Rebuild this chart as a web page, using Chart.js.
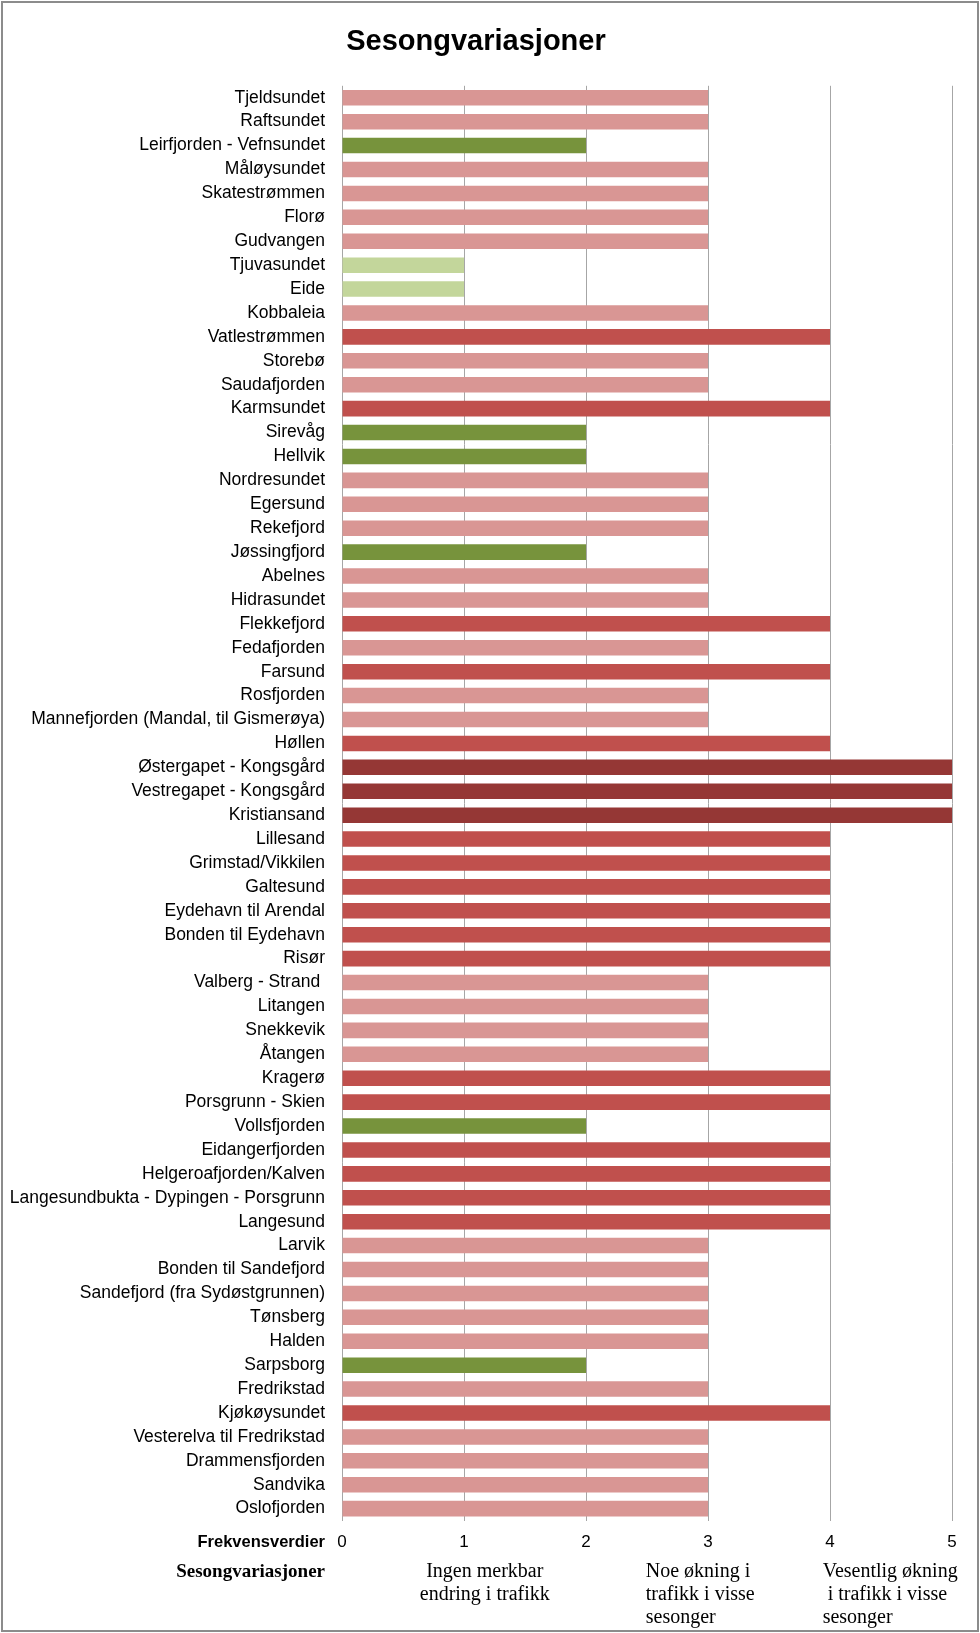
<!DOCTYPE html>
<html>
<head>
<meta charset="utf-8">
<script src="https://cdn.jsdelivr.net/npm/chart.js@4"></script>
<style>
  html, body { margin: 0; padding: 0; background: #fff; }
  canvas { display: block; }
</style>
</head>
<body>
<canvas id="chart" width="980" height="1633"></canvas>
<script>
const sites = [
  "Tjeldsundet", "Raftsundet", "Leirfjorden - Vefnsundet", "Måløysundet", "Skatestrømmen",
  "Florø", "Gudvangen", "Tjuvasundet", "Eide", "Kobbaleia",
  "Vatlestrømmen", "Storebø", "Saudafjorden", "Karmsundet", "Sirevåg",
  "Hellvik", "Nordresundet", "Egersund", "Rekefjord", "Jøssingfjord",
  "Abelnes", "Hidrasundet", "Flekkefjord", "Fedafjorden", "Farsund",
  "Rosfjorden", "Mannefjorden (Mandal, til Gismerøya)", "Høllen", "Østergapet - Kongsgård", "Vestregapet - Kongsgård",
  "Kristiansand", "Lillesand", "Grimstad/Vikkilen", "Galtesund", "Eydehavn til Arendal",
  "Bonden til Eydehavn", "Risør", "Valberg - Strand ", "Litangen", "Snekkevik",
  "Åtangen", "Kragerø", "Porsgrunn - Skien", "Vollsfjorden", "Eidangerfjorden",
  "Helgeroafjorden/Kalven", "Langesundbukta - Dypingen - Porsgrunn", "Langesund", "Larvik", "Bonden til Sandefjord",
  "Sandefjord (fra Sydøstgrunnen)", "Tønsberg", "Halden", "Sarpsborg", "Fredrikstad",
  "Kjøkøysundet", "Vesterelva til Fredrikstad", "Drammensfjorden", "Sandvika", "Oslofjorden"
];

const frekvens = [
  3, 3, 2, 3, 3,
  3, 3, 1, 1, 3,
  4, 3, 3, 4, 2,
  2, 3, 3, 3, 2,
  3, 3, 4, 3, 4,
  3, 3, 4, 5, 5,
  5, 4, 4, 4, 4,
  4, 4, 3, 3, 3,
  3, 4, 4, 2, 4,
  4, 4, 4, 3, 3,
  3, 3, 3, 2, 3,
  4, 3, 3, 3, 3
];

// colour per frekvensverdi 0..5
const levelColors = ["#ffffff", "#c3d69b", "#77933c", "#d99694", "#c0504d", "#953735"];

const xTicks = [0, 1, 2, 3, 4, 5];

const rowTitle = "Frekvensverdier";
const tableTitle = "Sesongvariasjoner";
const tableCols = [
  ["Ingen merkbar", "endring i trafikk"],
  ["Noe økning i", "trafikk i visse", "sesonger"],
  ["Vesentlig økning", " i trafikk i visse", "sesonger"]
];

const sans = "'Liberation Sans', Arial, sans-serif";
const serif = "'Liberation Serif', 'DejaVu Serif', serif";

const tablePlugin = {
  id: "tablePlugin",
  afterDraw(chart) {
    const ctx = chart.ctx;
    const xs = chart.scales.x;
    ctx.save();
    ctx.fillStyle = "#000";
    ctx.textBaseline = "middle";

    // row label for the tick numbers
    ctx.font = "bold 16.5px " + sans;
    ctx.textAlign = "right";
    ctx.fillText(rowTitle, 325, xs.top + 12 + 10);

    // table under the axis
    const y0 = 1572, lh = 23;
    ctx.font = "bold 19px " + serif;
    ctx.fillText(tableTitle, 325, y0);

    ctx.font = "20px " + serif;
    ctx.textAlign = "center";
    tableCols[0].forEach((t, i) => ctx.fillText(t, xs.getPixelForValue(1.17), y0 + i * lh));
    ctx.textAlign = "left";
    tableCols[1].forEach((t, i) => ctx.fillText(t, xs.getPixelForValue(2.49), y0 + i * lh));
    tableCols[2].forEach((t, i) => ctx.fillText(t, xs.getPixelForValue(3.94), y0 + i * lh));

    // outer frame
    ctx.strokeStyle = "#8c8c8c";
    ctx.lineWidth = 2;
    ctx.strokeRect(2, 2, chart.width - 4, chart.height - 4);
    ctx.restore();
  }
};

new Chart(document.getElementById("chart"), {
  type: "bar",
  data: {
    labels: sites,
    datasets: [{
      data: frekvens,
      backgroundColor: frekvens.map((v) => levelColors[v]),
      barPercentage: 0.65,
      categoryPercentage: 1
    }]
  },
  options: {
    indexAxis: "y",
    responsive: false,
    animation: false,
    devicePixelRatio: 1,
    layout: { padding: { top: 0, right: 28, bottom: 68, left: 0 } },
    plugins: {
      legend: { display: false },
      tooltip: { enabled: false },
      title: {
        display: true,
        text: "Sesongvariasjoner",
        color: "#000",
        font: { family: sans, size: 29, weight: "bold" },
        padding: { top: 25, bottom: 26 }
      }
    },
    scales: {
      x: {
        min: 0,
        max: 5,
        afterBuildTicks: (s) => { s.ticks = xTicks.map((v) => ({ value: v })); },
        ticks: { color: "#000", font: { family: sans, size: 17 }, padding: 12, lineHeight: 1.3 },
        grid: { color: "#a6a6a6", drawTicks: false },
        border: { display: false }
      },
      y: {
        grid: { display: false, drawTicks: false },
        border: { display: false },
        ticks: { color: "#000", font: { family: sans, size: 17.5 }, padding: 17, autoSkip: false },
        afterFit: (s) => { s.width = 342; }
      }
    }
  },
  plugins: [tablePlugin]
});
</script>
</body>
</html>
